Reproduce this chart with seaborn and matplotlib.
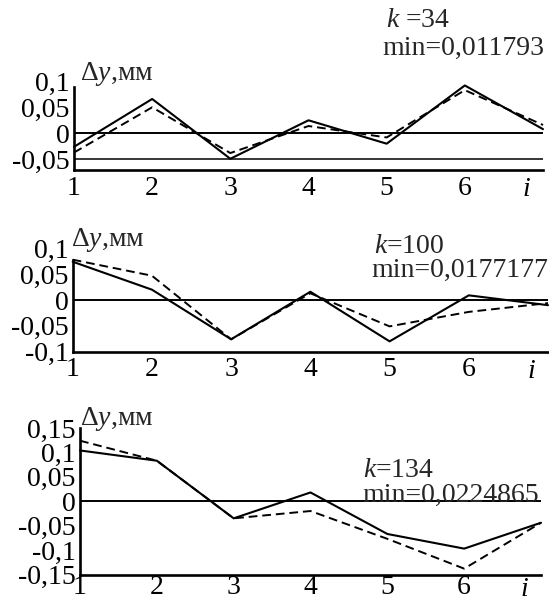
import matplotlib
matplotlib.use('Agg')
import matplotlib.pyplot as plt
import seaborn as sns
import numpy as np
import pandas as pd

# point numbers along the x axis
i_vals = [1, 2, 3, 4, 5, 6, 7]
x_ticks = [1, 2, 3, 4, 5, 6]
x_labels = ['1', '2', '3', '4', '5', '6']

# k = 34
solid_34 = [-0.026, 0.066, -0.049, 0.025, -0.020, 0.092, 0.008]
dashed_34 = [-0.037, 0.050, -0.038, 0.014, -0.008, 0.083, 0.016]
# k = 100
solid_100 = [0.074, 0.020, -0.076, 0.016, -0.080, 0.009, -0.010]
dashed_100 = [0.078, 0.047, -0.076, 0.013, -0.051, -0.023, -0.006]
# k = 134
solid_134 = [0.104, 0.083, -0.035, 0.018, -0.067, -0.097, -0.044]
dashed_134 = [0.124, 0.083, -0.035, -0.020, -0.077, -0.138, -0.044]

y_ticks_1 = [-0.05, 0, 0.05, 0.1]
y_labels_1 = ['-0,05', '0', '0,05', '0,1']
y_ticks_2 = [-0.1, -0.05, 0, 0.05, 0.1]
y_labels_2 = ['-0,1', '-0,05', '0', '0,05', '0,1']
y_ticks_3 = [-0.15, -0.1, -0.05, 0, 0.05, 0.1, 0.15]
y_labels_3 = ['-0,15', '-0,1', '-0,05', '0', '0,05', '0,1', '0,15']

k_texts = ['$k$ =34', '$k$=100', '$k$=134']
min_texts = ['min=0,011793', 'min=0,0177177', 'min=0,0224865']

sns.set_theme(style='white')
plt.rcParams['font.family'] = ['Liberation Serif', 'DejaVu Serif']
plt.rcParams['mathtext.fontset'] = 'custom'
plt.rcParams['mathtext.rm'] = 'Liberation Serif'
plt.rcParams['mathtext.it'] = 'Liberation Serif:italic'

W, H = 549, 605
fig = plt.figure(figsize=(W / 100, H / 100), dpi=100)
fig.patch.set_facecolor('white')

FS = 20


def px_axes(left, right, top, bottom):
    return fig.add_axes([left / W, 1 - bottom / H, (right - left) / W, (bottom - top) / H])


panels = [
    # axes box in px, ylim, spine top, ticks, labels, data, extra lines, texts
    dict(box=(74, 543, 81.3, 170), ylim=(-0.0706, 0.1), spine_top=0.0885,
         ticks=y_ticks_1, labels=y_labels_1, solid=solid_34, dashed=dashed_34,
         hlines=[0, -0.05], k=(386, 27), m=(382, 55), dy=(80, 80), xpad=4),
    dict(box=(72.7, 548, 248.3, 351.7), ylim=(-0.1, 0.1), spine_top=0.077,
         ticks=y_ticks_2, labels=y_labels_2, solid=solid_100, dashed=dashed_100,
         hlines=[0], k=(374, 253), m=(371, 277), dy=(71, 246), xpad=4),
    dict(box=(80, 541, 428, 574.5), ylim=(-0.15, 0.15), spine_top=0.15,
         ticks=y_ticks_3, labels=y_labels_3, solid=solid_134, dashed=dashed_134,
         hlines=[0], k=(363, 477), m=(362, 502), dy=(80, 425), xpad=0.5),
]

for n, p in enumerate(panels):
    ax = px_axes(*p['box'])
    ax.set_facecolor('none')
    sns.lineplot(x=i_vals, y=p['solid'], ax=ax, color='black', linewidth=1.5,
                 clip_on=False)
    sns.lineplot(x=i_vals, y=p['dashed'], ax=ax, color='black', linewidth=1.4,
                 linestyle=(0, (4.5, 2.5)), clip_on=False)
    for h in p['hlines']:
        ax.axhline(h, color='black', linewidth=1.4 if h == 0 else 1.1)

    ax.set_xlim(1, 7)
    ax.set_ylim(*p['ylim'])
    ax.set_xticks(x_ticks, x_labels)
    ax.set_yticks(p['ticks'], p['labels'])
    ax.tick_params(axis='both', direction='in', length=3, width=1.4,
                   labelsize=FS, colors='black')
    ax.tick_params(axis='y', pad=3)
    ax.tick_params(axis='x', pad=p['xpad'])
    for t, v in zip(ax.yaxis.get_major_ticks(), p['ticks']):
        if v > p['spine_top'] + 1e-9:
            t.tick1line.set_visible(False)
    ax.xaxis.get_major_ticks()[0].tick1line.set_visible(False)

    for s in ['top', 'right']:
        ax.spines[s].set_visible(False)
    for s in ['left', 'bottom']:
        ax.spines[s].set_color('black')
        ax.spines[s].set_linewidth(1.9)
    ax.spines['left'].set_bounds(p['ylim'][0], p['spine_top'])

    ax.annotate('$i$', xy=(0.965, 0), xycoords='axes fraction',
                xytext=(0, -p['xpad'] - 1), textcoords='offset points',
                ha='center', va='top', fontsize=FS, color='black')

    fig.text(p['k'][0] / W, 1 - p['k'][1] / H, k_texts[n], fontsize=FS,
             ha='left', va='baseline')
    fig.text(p['m'][0] / W, 1 - p['m'][1] / H, min_texts[n], fontsize=FS,
             ha='left', va='baseline')
    fig.text(p['dy'][0] / W, 1 - p['dy'][1] / H, r'$\Delta y$,мм', fontsize=FS,
             ha='left', va='baseline')

fig.savefig('out.png', dpi=100, facecolor='white')
